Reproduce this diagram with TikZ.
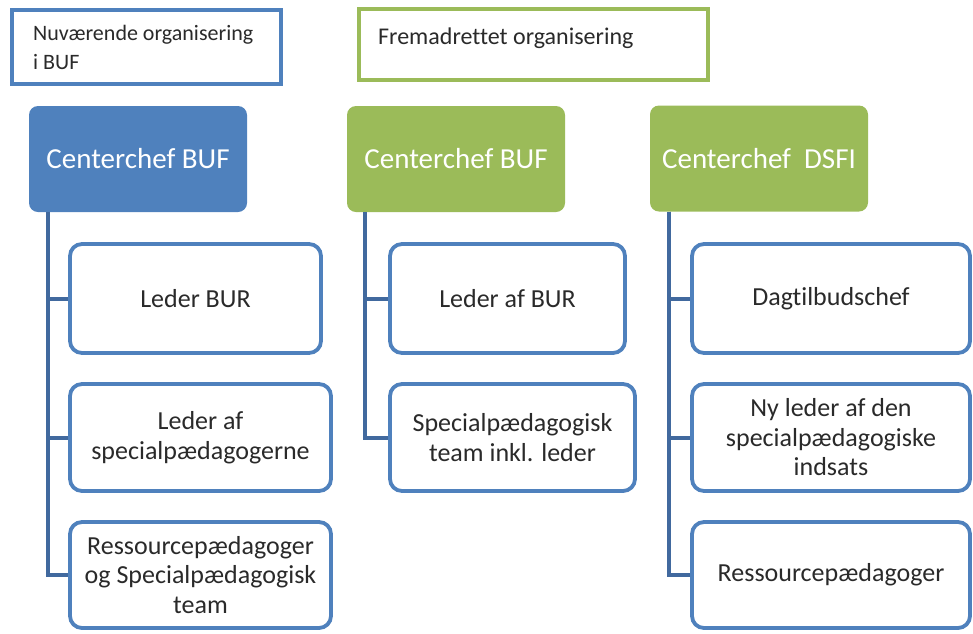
\documentclass[tikz,border=0pt]{standalone}
\usepackage{fontspec}
\setmainfont{Carlito}[Ligatures=NoCommon]
\usetikzlibrary{calc}
\definecolor{boxblue}{HTML}{4F81BD}
\definecolor{linkblue}{HTML}{41699E}
\definecolor{chefgreen}{HTML}{9BBB59}
\definecolor{txtgray}{HTML}{2A2A2A}
\tikzset{
  chefbox/.style={rectangle, rounded corners=9pt, draw=none, minimum width=218pt, minimum height=106pt,
    text=white, font=\fontsize{29}{34}\selectfont, inner sep=0pt},
  unitbox/.style={rectangle, rounded corners=12pt, draw=boxblue, line width=3.8pt, fill=white,
    text=txtgray, font=\fontsize{26}{29.5}\selectfont, align=center, inner sep=0pt},
  headbox/.style={rectangle, line width=3.8pt, fill=white, inner sep=0pt},
  conn/.style={draw=linkblue, line width=4pt},
}
\begin{document}
\begin{tikzpicture}[x=1pt,y=-1pt]
\useasboundingbox (0,0) rectangle (973,633);
% header boxes
\node[headbox, draw=boxblue, minimum width=269pt, minimum height=74pt] (h1) at (146.5,47) {};
\node[anchor=north west, inner sep=0pt, align=left, text=txtgray, font=\fontsize{22}{29}\selectfont] (h1t) at (33,25) {Nuværende organisering\\i BUF};
\node[headbox, draw=chefgreen, minimum width=349pt, minimum height=71pt] (h2) at (533.5,44.5) {};
\node[anchor=base west, inner sep=0pt, text=txtgray, font=\fontsize{24}{29}\selectfont] (h2t) at (378,44) {Fremadrettet organisering};
% chiefs
\node[chefbox, fill=boxblue] (c1) at (138,159) {Centerchef BUF};
\node[chefbox, fill=chefgreen] (c2) at (456,159) {Centerchef BUF};
\node[chefbox, fill=chefgreen] (c3) at (759,158.5) {Centerchef\ \ DSFI};
% column 1
\node[unitbox, minimum width=251pt, minimum height=109pt] (b11) at (195.5,298.5) {Leder BUR};
\node[unitbox, minimum width=261pt, minimum height=107pt] (b12) at (200.5,437.5) {Leder af\\specialpædagogerne};
\node[unitbox, minimum width=261pt, minimum height=106pt] (b13) at (200.5,575) {Ressourcepædagoger\\og Specialpædagogisk\\team};
% column 2
\node[unitbox, minimum width=235pt, minimum height=109pt] (b21) at (507.5,298.5) {Leder af BUR};
\node[unitbox, minimum width=245pt, minimum height=107pt] (b22) at (512.5,437.5) {Specialpædagogisk\\team inkl. leder};
% column 3
\node[unitbox, minimum width=278pt, minimum height=109pt] (b31) at (831,298.5) {Dagtilbudschef};
\node[unitbox, minimum width=278pt, minimum height=107pt] (b32) at (831,437.5) {Ny leder af den\\specialpædagogiske\\indsats};
\node[unitbox, minimum width=278pt, minimum height=106pt] (b33) at (831,575) {Ressourcepædagoger};
% connectors
\coordinate (s1) at ($(c1.south west)+(19,0)$);
\coordinate (s2) at ($(c2.south west)+(18,0)$);
\coordinate (s3) at ($(c3.south west)+(19,0)$);
\draw[conn] (s1) |- (b13.west);
\draw[conn] (s1) |- (b12.west);
\draw[conn] (s1) |- (b11.west);
\draw[conn] (s2) |- (b22.west);
\draw[conn] (s2) |- (b21.west);
\draw[conn] (s3) |- (b33.west);
\draw[conn] (s3) |- (b32.west);
\draw[conn] (s3) |- (b31.west);
\end{tikzpicture}
\end{document}
